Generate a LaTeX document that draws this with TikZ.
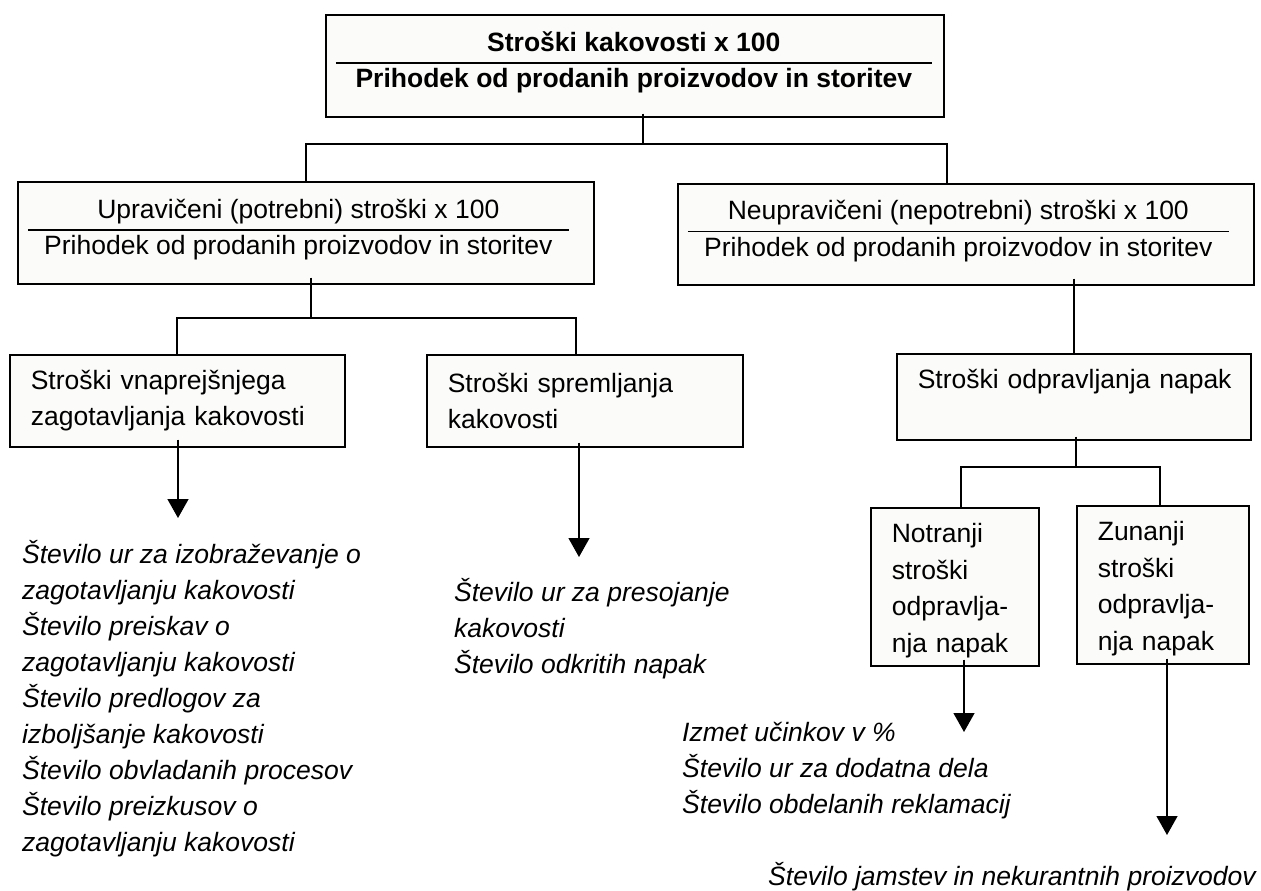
\documentclass[tikz,border=0pt]{standalone}
\usepackage{fontspec}
\setmainfont{Liberation Sans}
\usepackage{array}
\usepackage{tikz}
\usetikzlibrary{arrows.meta}
\definecolor{okvirfill}{RGB}{251,251,249}
\setlength{\arrayrulewidth}{1.5pt}
\newcommand{\kolicnik}[4]{%
  \begin{tabular}{@{}p{10pt}@{}>{\centering\arraybackslash}p{#1}@{}p{#2}@{}}
  & #3 & \\ \cline{2-2}
  & #4 & \\[7.5pt]
  \end{tabular}}
\tikzset{
    okvir/.style = {draw, line width=1.6pt, fill=okvirfill, rectangle,
                 anchor=north west, inner sep=0pt, font=\fontsize{26.5}{36.5}\selectfont},
    stroski/.style = {okvir, inner xsep=21pt, align=left},
    kazalci/.style = {anchor=base west, inner sep=0pt, align=left,
                 font=\fontsize{26.5}{36}\selectfont\itshape},
    vez/.style = {line width=1.4pt},
    puscica/.style = {vez, -{Triangle[length=19pt,width=21pt]}},
}

\begin{document}
\begin{tikzpicture}[x=1pt,y=-1pt]
\useasboundingbox (0,0) rectangle (1261,891);

\node (kakovost) [okvir, minimum width=618pt, minimum height=102pt,
  font=\fontsize{26.5}{36.5}\selectfont\bfseries] at (325,14)
  {\kolicnik{596pt}{12pt}{Stroški kakovosti x 100}{Prihodek od prodanih proizvodov in storitev}};
\node (upraviceni) [okvir, minimum width=576pt, minimum height=102pt] at (17,181)
  {\kolicnik{541pt}{25pt}{Upravičeni (potrebni) stroški x 100}{Prihodek od prodanih proizvodov in storitev}};
\node (neupraviceni) [okvir, minimum width=576pt, minimum height=101pt] at (677,183)
  {\kolicnik{541pt}{25pt}{Neupravičeni (nepotrebni) stroški x 100}{Prihodek od prodanih proizvodov in storitev}};

\node (vnaprej) [stroski, text width=293pt, minimum height=92pt] at (9,354)
  {Stroški vnaprejšnjega\\ zagotavljanja kakovosti};
\node (spremljanje) [stroski, text width=274pt, minimum height=92pt] at (426,354)
  {Stroški spremljanja\\ kakovosti};
\node (odpravljanje) [stroski, text width=312pt, minimum height=86pt] at (896,353)
  {\mbox{Stroški odpravljanja napak}\\ \mbox{}};
\node (notranji) [stroski, text width=126pt, minimum height=158pt] at (870,507)
  {\rule{0pt}{27pt}Notranji\\ stroški\\ odpravlja-\\ nja napak};
\node (zunanji) [stroski, text width=130pt, minimum height=158pt] at (1076,505)
  {\rule{0pt}{27pt}Zunanji\\ stroški\\ odpravlja-\\ nja napak};

% base = zadnja vrstica
\node (kazalci1) [kazalci] at (22,851)
  {Število ur za izobraževanje o\\ zagotavljanju kakovosti\\ Število preiskav o\\
   zagotavljanju kakovosti\\ Število predlogov za\\ izboljšanje kakovosti\\
   Število obvladanih procesov\\ Število preizkusov o\\ zagotavljanju kakovosti};
\node (kazalci2) [kazalci] at (454,673)
  {Število ur za presojanje\\ kakovosti\\ Število odkritih napak};
\node (kazalci3) [kazalci] at (682,813)
  {Izmet učinkov v \%\\ Število ur za dodatna dela\\ Število obdelanih reklamacij};
\node (kazalci4) [kazalci] at (768,885)
  {Število jamstev in nekurantnih proizvodov};

% razvejitve
\coordinate (r1) at (643,144);
\coordinate (r1l) at (306,144);
\coordinate (r1r) at (947,144);
\draw[vez] (r1 |- kakovost.south) ++(0,-4) -- (r1);
\draw[vez] (upraviceni.north -| r1l) -- (r1l) -- (r1r) -- (neupraviceni.north -| r1r);

\coordinate (r2) at (311,318);
\coordinate (r2l) at (177,318);
\coordinate (r2r) at (576,318);
\draw[vez] (r2 |- upraviceni.south) ++(0,-7) -- (r2);
\draw[vez] (vnaprej.north -| r2l) -- (r2l) -- (r2r) -- (spremljanje.north -| r2r);

\draw[vez] (neupraviceni.south -| odpravljanje.north) ++(0,-7) -- (odpravljanje.north);

\coordinate (r3) at (1076,467);
\coordinate (r3l) at (961,467);
\coordinate (r3r) at (1160,467);
\draw[vez] (r3 |- odpravljanje.south) ++(0,-4) -- (r3);
\draw[vez] (notranji.north -| r3l) -- (r3l) -- (r3r) -- (zunanji.north -| r3r);

% kazalniki
\coordinate (k1) at (178,518);
\coordinate (k2) at (579,557);
\coordinate (k3) at (964,732);
\coordinate (k4) at (1167,835);
\draw[puscica] (k1 |- vnaprej.south) ++(0,-8) -- (k1);
\draw[puscica] (k2 |- spremljanje.south) ++(0,-5) -- (k2);
\draw[puscica] (k3 |- notranji.south) ++(0,-7) -- (k3);
\draw[puscica] (k4 |- zunanji.south) ++(0,-6) -- (k4);
\end{tikzpicture}
\end{document}
